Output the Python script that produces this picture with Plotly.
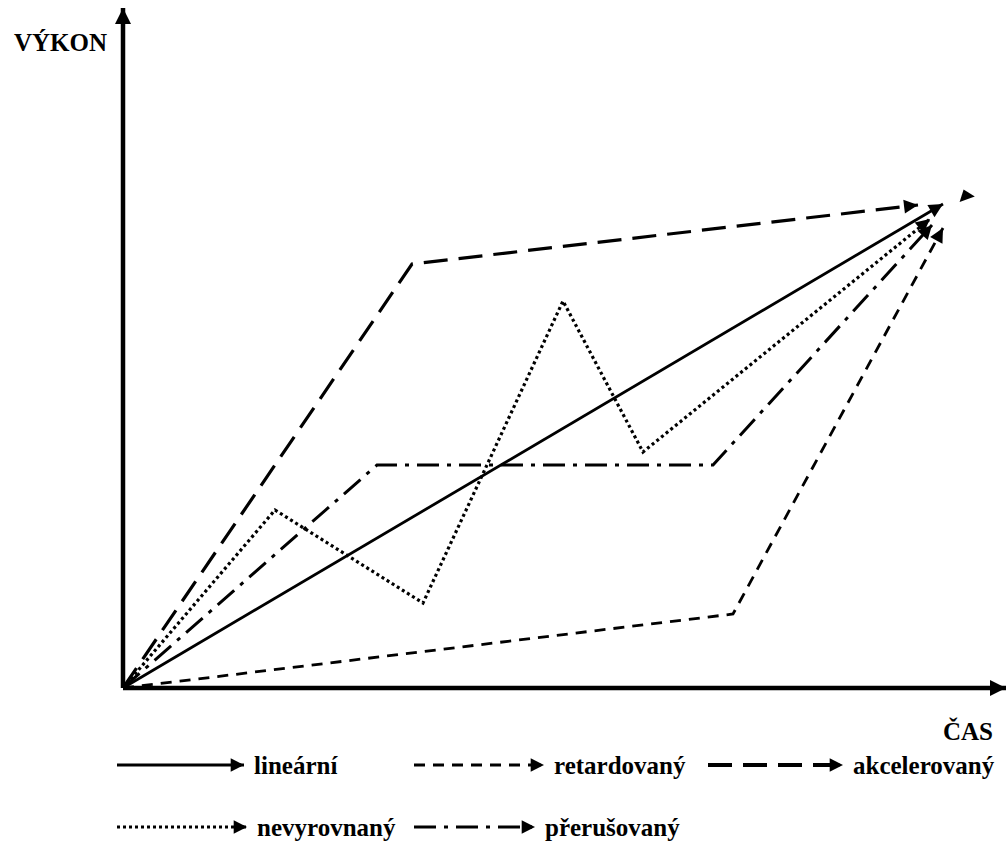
import math
import plotly.graph_objects as go

# ---- data (time on x, output on y; origin at the axes' crossing) ----
linear_x = [0, 820]
linear_y = [0, 484]

akcel_x = [0, 289, 795]
akcel_y = [0, 424, 483]

retard_x = [0, 610, 820]
retard_y = [0, 74, 460]

nevyr_x = [0, 152, 300, 440, 520, 807]
nevyr_y = [0, 178, 85, 387, 236, 469]

preru_x = [0, 254, 590, 809]
preru_y = [0, 223, 223, 463]

stray_x = [843]
stray_y = [492]

axis_x_end = 883
axis_y_end = 680

series_names = ["lineární", "retardovaný", "akcelerovaný", "nevyrovnaný", "přerušovaný"]
y_label = "VÝKON"
x_label = "ČAS"

# ---- styles ----
FONT = "Liberation Serif, Times New Roman, serif"
styles = {
    "lineární": dict(dash="solid", width=2.8),
    "retardovaný": dict(dash="11px,8px", width=2.8),
    "akcelerovaný": dict(dash="24px,11px", width=3.2),
    "nevyrovnaný": dict(dash="3px,3px", width=3.2),
    "přerušovaný": dict(dash="22px,8px,4px,8px", width=3),
}
data = {
    "lineární": (linear_x, linear_y),
    "retardovaný": (retard_x, retard_y),
    "akcelerovaný": (akcel_x, akcel_y),
    "nevyrovnaný": (nevyr_x, nevyr_y),
    "přerušovaný": (preru_x, preru_y),
}

fig = go.Figure()
annotations = []


def arrow_line(xs, ys, dash, width, head_w=2.8, head_size=1.0, back=10):
    fig.add_trace(go.Scatter(
        x=xs, y=ys, mode="lines",
        line=dict(color="black", width=width, dash=dash),
        showlegend=False, hoverinfo="skip",
    ))
    # filled arrowhead on the last segment, direction taken from the data
    dx = xs[-1] - xs[-2]
    dy = ys[-1] - ys[-2]
    L = math.hypot(dx, dy)
    annotations.append(dict(
        x=xs[-1], y=ys[-1], ax=xs[-1] - back * dx / L, ay=ys[-1] - back * dy / L,
        xref="x", yref="y", axref="x", ayref="y", text="",
        showarrow=True, arrowhead=2, arrowsize=head_size, arrowwidth=head_w,
        arrowcolor="black", standoff=0, startstandoff=0,
    ))


# axes
arrow_line([0, axis_x_end], [0, 0], "solid", 4.5, 4, 0.8, 12)
arrow_line([0, 0], [0, axis_y_end], "solid", 4.5, 4, 0.8, 12)

# series
for name in series_names:
    xs, ys = data[name]
    st = styles[name]
    arrow_line(xs, ys, st["dash"], st["width"], 2.8, 1.0, 10)

# stray arrowhead
fig.add_trace(go.Scatter(x=stray_x, y=stray_y, mode="markers",
                         marker=dict(symbol="triangle-up", size=14, angle=-20,
                                     color="black"),
                         showlegend=False, hoverinfo="skip"))

# custom legend (line sample + label)
legend_pos = {
    "lineární": (-6, 121, -77),
    "retardovaný": (291, 421, -77),
    "akcelerovaný": (585, 720, -77),
    "nevyrovnaný": (-6, 124, -139),
    "přerušovaný": (291, 412, -139),
}
for name in series_names:
    x0, x1, yy = legend_pos[name]
    st = styles[name]
    w = 4.2 if name == "akcelerovaný" else st["width"]
    arrow_line([x0, x1], [yy, yy], st["dash"], w, 2.8, 0.95, 8)
    annotations.append(dict(x=x1 + 8, y=yy, xref="x", yref="y", text="<b>%s</b>" % name,
                            showarrow=False, xanchor="left", yanchor="middle",
                            font=dict(family=FONT, size=25, color="black")))

annotations.append(dict(x=-63, y=646, xref="x", yref="y", text="<b>%s</b>" % y_label,
                        showarrow=False, xanchor="center", yanchor="middle",
                        font=dict(family=FONT, size=25, color="black")))
annotations.append(dict(x=845, y=-43, xref="x", yref="y", text="<b>%s</b>" % x_label,
                        showarrow=False, xanchor="center", yanchor="middle",
                        font=dict(family=FONT, size=25, color="black")))

fig.update_layout(
    width=1008, height=842, autosize=False,
    margin=dict(l=0, r=0, t=0, b=0),
    paper_bgcolor="white", plot_bgcolor="white",
    xaxis=dict(range=[-123, 885], visible=False, fixedrange=True),
    yaxis=dict(range=[-154, 688], visible=False, fixedrange=True),
    annotations=annotations,
    showlegend=False,
)

fig.write_html("out.html", config={"displayModeBar": False},
               post_script="document.body.style.margin='0';document.body.style.overflow='hidden';")
